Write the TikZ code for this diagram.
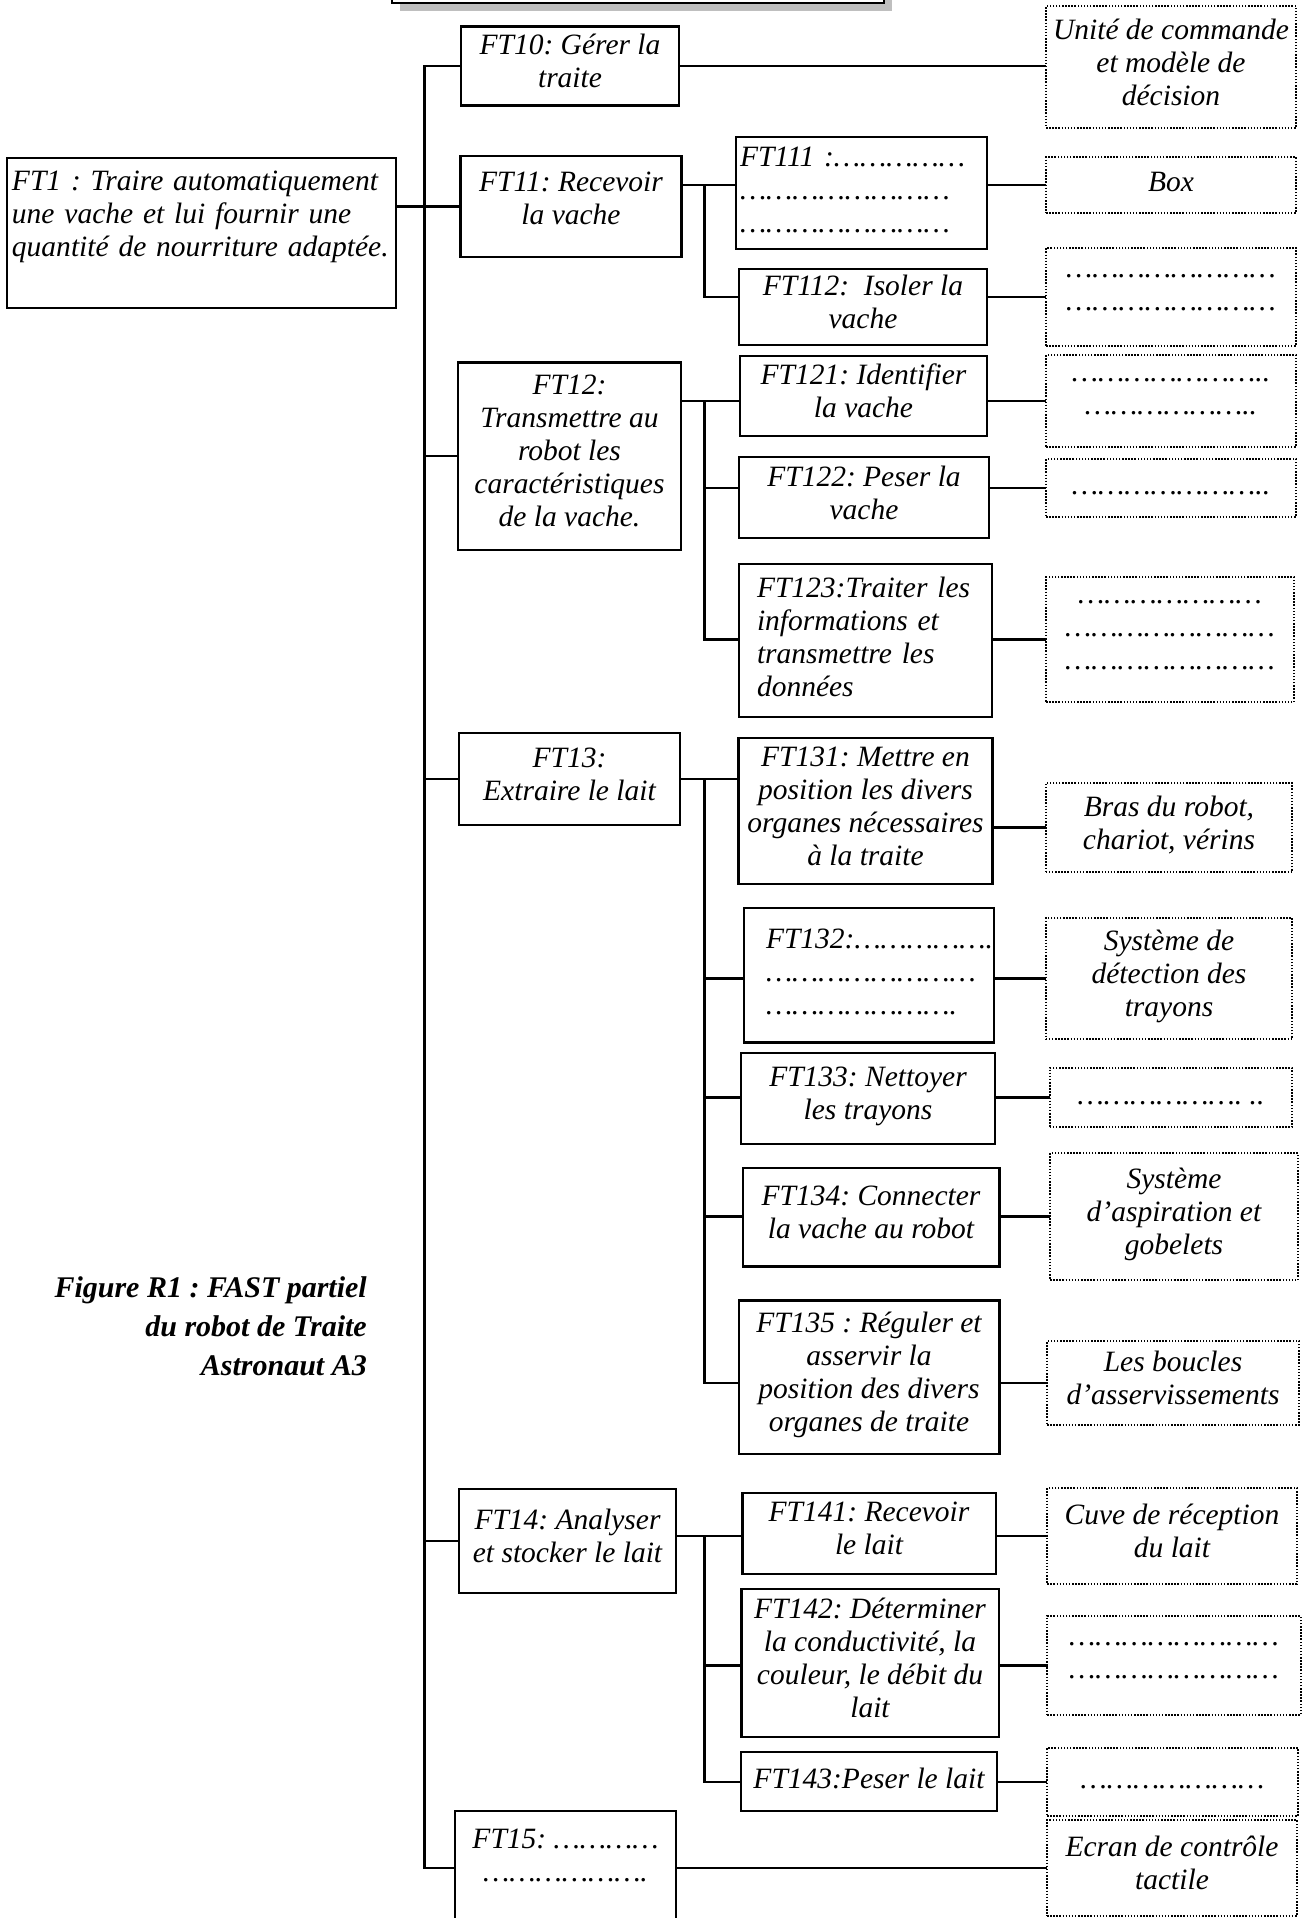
\documentclass[tikz,border=0pt]{standalone}
\usepackage{fontspec}
\setmainfont{Liberation Serif}
\usepackage{tikz}
\newcommand{\boxfont}{\fontsize{29.5}{33}\selectfont\itshape\frenchspacing}
\newcommand{\capfont}{\fontsize{30}{39}\selectfont\bfseries\itshape\frenchspacing}
\newcommand{\pts}[1]{\foreach \k in {1,...,#1}{…}}

\begin{document}
\begin{tikzpicture}[x=1pt,y=-1pt,
    sz/.style 2 args={minimum width=#1,minimum height=#2},
    fct/.style={draw,line width=2.5pt,align=center,inner sep=2pt,font=\boxfont,
      execute at begin node=\strut,execute at end node=\strut},
    sol/.style={fct,line width=1.8pt,dash pattern=on 1.5pt off 1.6pt},
    link/.style={line width=2.5pt,line cap=rect}]
  \useasboundingbox (0,0) rectangle (1304,1918);
  % bandeau du haut
  \fill[gray!50] (400,-40) rectangle (892,11);
  \draw[line width=2.5pt,fill=white] (392,-40) rectangle (884,3);

  \node[fct,align=left,text width=379,inner xsep=5,minimum height=150] (ft1) at (201.5,233)
    {FT1 : Traire automatiquement\\une vache et lui fournir une\\quantité de nourriture adaptée.\\ \mbox{}};
  \node[fct,sz={218}{79}] (ft10) at (570,66) {FT10: Gérer la\\traite};
  \node[fct,sz={221}{101}] (ft11) at (571,206.5) {FT11: Recevoir\\la vache\\[-26pt]};
  \node[fct,sz={223}{187.5}] (ft12) at (569.5,456) {FT12:\\Transmettre au\\robot les\\caractéristiques\\de la vache.};
  \node[fct,sz={221}{92}] (ft13) at (569.5,779) {FT13:\\Extraire le lait};
  \node[fct,sz={217}{104}] (ft14) at (567.5,1541) {FT14: Analyser\\et stocker le lait};
  \node[fct,sz={221}{164}] (ft15) at (565.5,1893) {FT15: \pts{4}\\\pts{6}.\\ \mbox{}\\ \mbox{}};

  \node[fct,align=left,text width=243,inner xsep=4,minimum height=112] (ft111) at (861.5,193)
    {FT111 :\pts{5}\\\pts{8}\\\pts{8}};
  \node[fct,sz={248}{76}] (ft112) at (863,307) {FT112:\ \ Isoler la\\vache};
  \node[fct,sz={247}{80}] (ft121) at (863.5,396) {FT121: Identifier\\la vache};
  \node[fct,sz={250}{81}] (ft122) at (864,497.5) {FT122: Peser la\\vache};
  \node[fct,align=left,text width=217,inner xsep=18,minimum height=153] (ft123) at (865.5,640.5)
    {FT123:Traiter les\\informations et\\transmettre les\\données};
  \node[fct,sz={254}{146}] (ft131) at (865.5,811) {FT131: Mettre en\\position les divers\\organes nécessaires\\à la traite};
  \node[fct,align=left,text width=206,inner xsep=22,minimum height=134.5] (ft132) at (869,975)
    {FT132:\pts{5}.\\\pts{8}\\\pts{7}.};
  \node[fct,sz={254}{91}] (ft133) at (868,1098.5) {FT133: Nettoyer\\les trayons};
  \node[fct,sz={256.5}{98.5}] (ft134) at (871,1217) {FT134: Connecter\\la vache au robot};
  \node[fct,sz={260.5}{153.5}] (ft135) at (869,1377) {FT135 : Réguler et\\asservir la\\position des divers\\organes de traite};
  \node[fct,sz={253.5}{81}] (ft141) at (869,1533.5) {FT141: Recevoir\\le lait};
  \node[fct,sz={257.5}{148}] (ft142) at (870,1663) {FT142: Déterminer\\la conductivité, la\\couleur, le débit du\\lait};
  \node[fct,sz={256}{59}] (ft143) at (869,1781.5) {FT143:Peser le lait};

  \node[sol,sz={250}{122}] (s10) at (1171,67) {Unité de commande\\et modèle de\\décision};
  \node[sol,sz={250}{55.5}] (s111) at (1171,185) {Box};
  \node[sol,sz={250}{98}] (s112) at (1171,297) {\pts{8}\\\pts{8}};
  \node[sol,sz={250}{92}] (s121) at (1171,401) {\pts{7}..\\\pts{6}..};
  \node[sol,sz={250}{58}] (s122) at (1171,488) {\pts{7}..};
  \node[sol,sz={248}{125}] (s123) at (1170,639.5) {\pts{7}\\\pts{8}\\\pts{8}};
  \node[sol,sz={246.5}{89}] (s131) at (1169,827.5) {Bras du robot,\\chariot, vérins};
  \node[sol,sz={246.5}{121}] (s132) at (1169,978.5) {Système de\\détection des\\trayons};
  \node[sol,sz={242.5}{59}] (s133) at (1171,1097.5) {\pts{6}. ..};
  \node[sol,sz={248}{127}] (s134) at (1174,1216.5) {Système\\d’aspiration et\\gobelets};
  \node[sol,sz={252}{84}] (s135) at (1173,1383) {Les boucles\\d’asservissements};
  \node[sol,sz={249.5}{96}] (s141) at (1172,1536) {Cuve de réception\\du lait};
  \node[sol,sz={253.5}{99}] (s142) at (1174,1665.5) {\pts{8}\\\pts{8}};
  \node[sol,sz={251}{68}] (s143) at (1172.5,1782) {\pts{7}};
  \node[sol,sz={250}{96}] (s15) at (1172,1868) {Ecran de contrôle\\tactile};

  \node[font=\capfont,align=right,anchor=east,inner sep=0pt,
    execute at begin node=\strut,execute at end node=\strut] (cap) at (367,1332)
    {Figure R1 : FAST partiel\\du robot de Traite\\Astronaut A3};

  \coordinate (trunk) at (424.5,0);
  \coordinate (sub) at (704.5,0);
  \path[link]
    (ft1.east |- ft11) edge (ft11.west)
    (trunk |- ft10) edge (trunk |- s15)
    (trunk |- ft10) edge (ft10.west)
    (trunk |- ft12) edge (ft12.west)
    (trunk |- ft13) edge (ft13.west)
    (trunk |- ft14) edge (ft14.west)
    (trunk |- s15) edge (ft15.west |- s15)
    (ft10.east) edge (s10.west |- ft10)
    (ft15.east |- s15) edge (s15.west)
    (ft11.east |- s111) edge (sub |- s111)
    (sub |- s111) edge (sub |- s112)
    (ft12.east |- s121) edge (sub |- s121)
    (sub |- s121) edge (sub |- s123)
    (ft13.east) edge (ft131.west |- ft13)
    (sub |- ft13) edge (sub |- s135)
    (ft14.east |- s141) edge (sub |- s141)
    (sub |- s141) edge (sub |- s143);
  \foreach \n in {111,112,121,122,123,132,133,134,135,141,142,143}
    \path[link] (sub |- s\n) edge (ft\n.west |- s\n);
  \foreach \n in {111,112,121,122,123,131,132,133,134,135,141,142,143}
    \path[link] (ft\n.east |- s\n) edge (s\n.west);
\end{tikzpicture}
\end{document}
